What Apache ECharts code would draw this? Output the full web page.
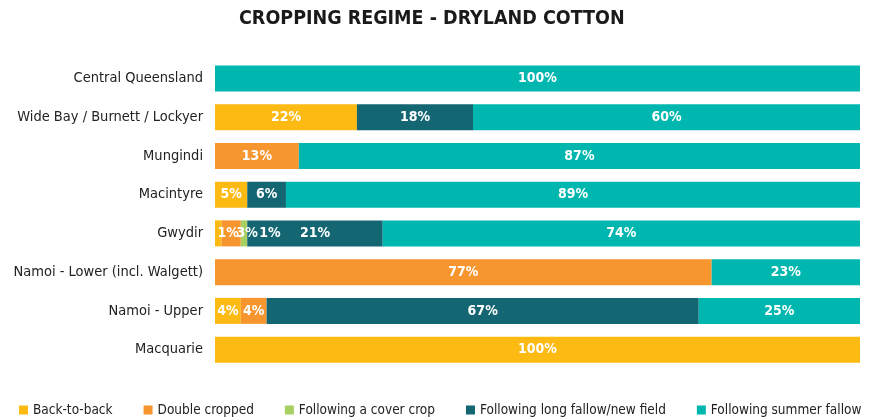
<!DOCTYPE html>
<html>
<head>
<meta charset="utf-8">
<script src="https://cdn.jsdelivr.net/npm/echarts@6/dist/echarts.min.js"></script>
<style>
  html, body { margin: 0; padding: 0; background: #fff; }
  #chart { width: 870px; height: 420px; }
</style>
</head>
<body>
<div id="chart"></div>
<script>
// regions, top to bottom
const regions = [
  'Central Queensland',
  'Wide Bay / Burnett / Lockyer',
  'Mungindi',
  'Macintyre',
  'Gwydir',
  'Namoi - Lower (incl. Walgett)',
  'Namoi - Upper',
  'Macquarie'
];

// percentages per regime
const backToBack     = [0, 22, 0, 5, 1, 0, 4, 100];
const doubleCropped  = [0, 0, 13, 0, 3, 77, 4, 0];
const coverCrop      = [0, 0, 0, 0, 1, 0, 0, 0];
const longFallow     = [0, 18, 0, 6, 21, 0, 67, 0];
const summerFallow   = [100, 60, 87, 89, 74, 23, 25, 0];

const seriesNames = [
  'Back-to-back',
  'Double cropped',
  'Following a cover crop',
  'Following long fallow/new field',
  'Following summer fallow'
];
const seriesColors = ['#FDBA12', '#F7952F', '#A7CF62', '#156673', '#00B7AF'];
const seriesData = [backToBack, doubleCropped, coverCrop, longFallow, summerFallow];

// the tiny Gwydir slices have their labels pushed right so they don't collide
const gwydirShift = [10, 16, 26, 0, 0];

const fontFam = '"DejaVu Sans Condensed", "Liberation Sans Narrow", sans-serif';

const chart = echarts.init(document.getElementById('chart'));

const series = seriesData.map((arr, si) => ({
  name: seriesNames[si],
  type: 'bar',
  stack: 'total',
  barWidth: 26,
  itemStyle: { color: seriesColors[si] },
  label: {
    show: true,
    position: 'inside',
    color: '#fff',
    fontWeight: 'bold',
    fontSize: 14,
    fontFamily: fontFam,
    formatter: p => (p.value ? p.value + '%' : '')
  },
  data: arr.map((v, i) => {
    if (regions[i] === 'Gwydir' && gwydirShift[si]) {
      return { value: v, label: { offset: [gwydirShift[si], 0] } };
    }
    return v;
  })
}));

const option = {
  animation: false,
  title: {
    text: 'CROPPING REGIME - DRYLAND COTTON',
    left: 234,
    top: 4,
    textStyle: {
      fontSize: 19.5,
      fontWeight: 'bold',
      color: '#1a1a1a',
      fontFamily: fontFam
    }
  },
  grid: {
    top: 59,
    left: 215,
    right: 10,
    bottom: 51
  },
  legend: {
    bottom: -2,
    left: 14,
    width: 856,
    itemWidth: 9,
    itemHeight: 9,
    itemGap: 31,
    itemTextGap: 7,
    icon: 'rect',
    textStyle: {
      fontSize: 13.5,
      color: '#222',
      fontFamily: fontFam
    },
    data: seriesNames
  },
  xAxis: {
    type: 'value',
    min: 0,
    max: 100,
    show: false
  },
  yAxis: {
    type: 'category',
    inverse: true,
    data: regions,
    axisLine: { show: false },
    axisTick: { show: false },
    axisLabel: {
      fontSize: 14.5,
      color: '#222',
      margin: 12,
      fontFamily: fontFam
    }
  },
  series: series
};

chart.setOption(option);
</script>
</body>
</html>
